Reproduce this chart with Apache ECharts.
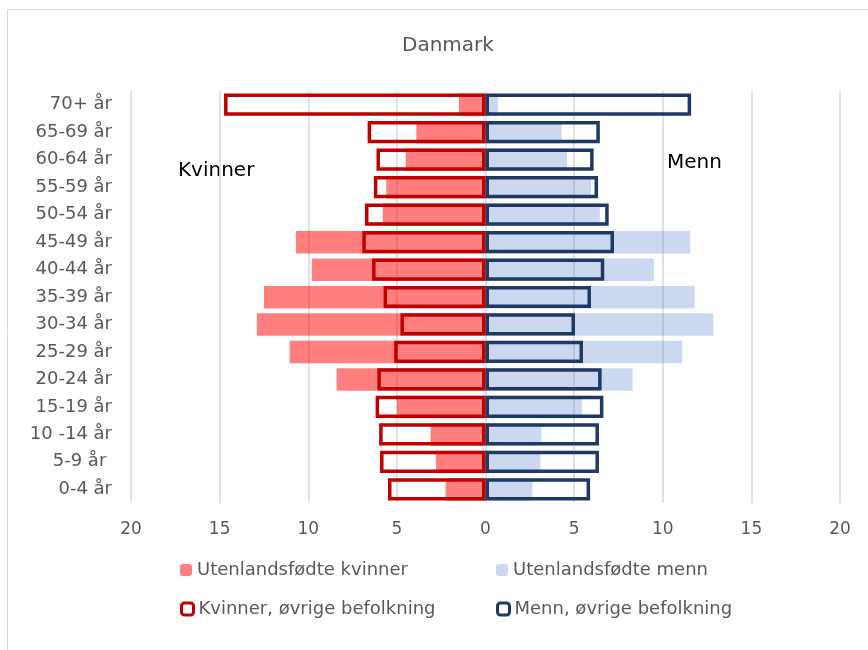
<!DOCTYPE html>
<html>
<head>
<meta charset="utf-8">
<script src="https://cdn.jsdelivr.net/npm/echarts@6/dist/echarts.min.js"></script>
<style>html,body{margin:0;padding:0;background:#fff;}#c{width:868px;height:650px;}</style>
</head>
<body>
<div id="c"></div>
<script>
var ages = ['0-4 år','5-9 år ','10 -14 år','15-19 år','20-24 år','25-29 år','30-34 år','35-39 år','40-44 år','45-49 år','50-54 år','55-59 år','60-64 år','65-69 år','70+ år'];
var womenForeign = [2.25, 2.8, 3.1, 5.0, 8.4, 11.05, 12.9, 12.5, 9.8, 10.7, 5.8, 5.6, 4.5, 3.9, 1.5];
var menForeign   = [2.65, 3.1, 3.15, 5.45, 8.3, 11.1, 12.85, 11.8, 9.5, 11.55, 6.45, 5.95, 4.6, 4.3, 0.7];
var womenOther   = [5.5, 5.95, 6.0, 6.2, 6.1, 5.15, 4.8, 5.75, 6.4, 6.95, 6.8, 6.3, 6.15, 6.65, 14.75];
var menOther     = [5.9, 6.4, 6.4, 6.65, 6.55, 5.5, 5.05, 5.95, 6.7, 7.25, 6.95, 6.35, 6.1, 6.45, 11.6];
var xTicks = {min: -20, max: 20, interval: 5};

var FONT = 'DejaVu Sans';
var GREY = '#595959';
var neg = function (a) { return a.map(function (v) { return -v; }); };

var chart = echarts.init(document.getElementById('c'), null, {renderer: 'canvas'});
var names = ['Utenlandsfødte kvinner', 'Utenlandsfødte menn', 'Kvinner, øvrige befolkning', 'Menn, øvrige befolkning'];
function leg(name, left, top, style) {
  return {
    data: [{name: name, itemStyle: style}],
    left: left, top: top, itemWidth: 12, itemHeight: 12, itemGap: 0,
    textStyle: {fontFamily: FONT, fontSize: 18, color: GREY},
    selectedMode: false
  };
}
chart.setOption({
  animation: false,
  textStyle: {fontFamily: FONT},
  title: {
    text: 'Danmark', left: 397, top: 31,
    textStyle: {fontFamily: FONT, fontSize: 20, fontWeight: 'normal', color: GREY}
  },
  legend: [
    leg(names[0], 175, 556, {color: 'rgba(255,0,0,0.5)', borderWidth: 0}),
    leg(names[1], 491, 556, {color: 'rgba(68,114,196,0.28)', borderWidth: 0}),
    leg(names[2], 175, 595, {color: '#fff', borderColor: '#C00000', borderWidth: 3}),
    leg(names[3], 491, 595, {color: '#fff', borderColor: '#1F3864', borderWidth: 3})
  ],
  grid: {left: 131, right: 28, top: 91, bottom: 147},
  xAxis: {
    type: 'value', min: xTicks.min, max: xTicks.max, interval: xTicks.interval,
    axisLine: {show: false}, axisTick: {show: false},
    splitLine: {lineStyle: {color: '#D9D9D9', width: 1.5}},
    axisLabel: {
      fontFamily: FONT, fontSize: 17, color: GREY, margin: 18,
      formatter: function (v) { return Math.abs(v); }
    }
  },
  yAxis: {
    type: 'category', data: ages,
    axisLine: {show: false, onZero: false}, axisTick: {show: false},
    axisLabel: {fontFamily: FONT, fontSize: 18, color: GREY, margin: 19}
  },
  series: [
    {name: names[0], type: 'bar', data: neg(womenForeign), barWidth: '82%', barGap: '-100%',
     itemStyle: {color: 'rgba(255,0,0,0.5)'}, z: 2},
    {name: names[1], type: 'bar', data: menForeign, barWidth: '82%', barGap: '-100%',
     itemStyle: {color: 'rgba(68,114,196,0.28)'}, z: 2},
    {name: names[2], type: 'bar', data: neg(womenOther), barWidth: '81%', barGap: '-100%',
     itemStyle: {color: 'rgba(0,0,0,0)', borderColor: '#C00000', borderWidth: 3.5}, z: 3},
    {name: names[3], type: 'bar', data: menOther, barWidth: '81%', barGap: '-100%',
     itemStyle: {color: 'rgba(0,0,0,0)', borderColor: '#1F3864', borderWidth: 3.5}, z: 3}
  ],
  graphic: [
    {type: 'rect', shape: {x: 7.5, y: 9.5, width: 900, height: 700}, style: {fill: 'none', stroke: '#D9D9D9', lineWidth: 1}, silent: true, z: -1},
    {type: 'text', left: 178, top: 161, style: {text: 'Kvinner', font: '20px "DejaVu Sans"', fill: '#000'}},
    {type: 'text', left: 667, top: 153, style: {text: 'Menn', font: '20px "DejaVu Sans"', fill: '#000'}}
  ]
});
</script>
</body>
</html>
